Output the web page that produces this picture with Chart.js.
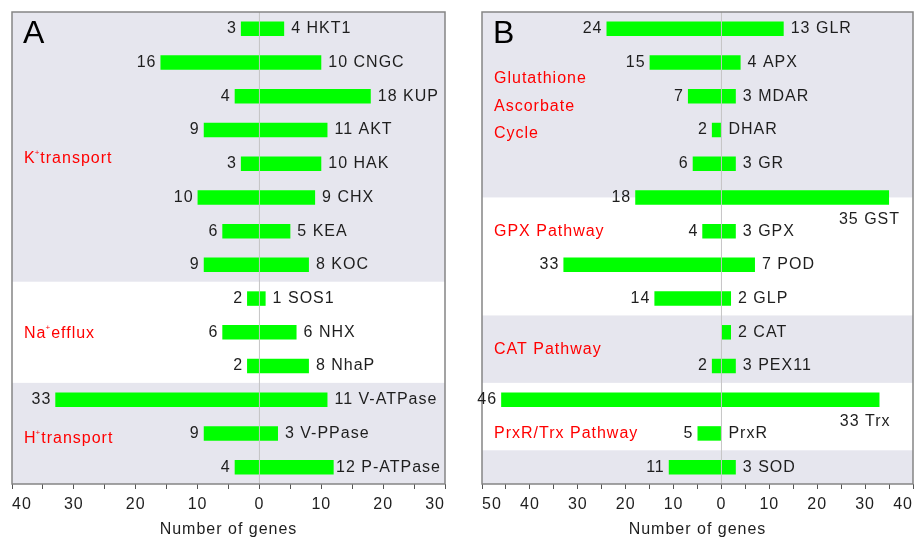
<!DOCTYPE html>
<html>
<head>
<meta charset="utf-8">
<script src="https://cdn.jsdelivr.net/npm/chart.js@4.4.1/dist/chart.umd.min.js"></script>
<style>
  html, body { margin: 0; padding: 0; background: #fff; overflow: hidden; }
  #wrap { position: relative; width: 919px; height: 539px; }
  #wrap canvas { position: absolute; top: 0; }
</style>
</head>
<body>
<div id="wrap">
  <canvas id="panelA" width="460" height="539" style="left:0"></canvas>
  <canvas id="panelB" width="459" height="539" style="left:460px"></canvas>
</div>
<script>
/* Two floating-bar panels: gene counts on the left (negative side) and right of zero */

// ── Panel A: ion transport ──
const genesA = ['HKT1', 'CNGC', 'KUP', 'AKT', 'HAK', 'CHX', 'KEA', 'KOC',
                'SOS1', 'NHX', 'NhaP', 'V-ATPase', 'V-PPase', 'P-ATPase'];
const leftA  = [3, 16, 4, 9, 3, 10, 6, 9, 2, 6, 2, 33, 9, 4];
const rightA = [4, 10, 18, 11, 10, 9, 5, 8, 1, 6, 8, 11, 3, 12];
const shadedA = [[-0.5, 7.5], [10.5, 13.5]];          // grey bands, in row units
const groupsA = [
  { lines: ['K^+transport'], at: 3.85 },
  { lines: ['Na^+efflux'],   at: 9.05 },
  { lines: ['H^+transport'], at: 12.15 }
];
const belowA = [];

// ── Panel B: antioxidant pathways ──
const genesB = ['GLR', 'APX', 'MDAR', 'DHAR', 'GR', 'GST', 'GPX', 'POD',
                'GLP', 'CAT', 'PEX11', 'Trx', 'PrxR', 'SOD'];
const leftB  = [24, 15, 7, 2, 6, 18, 4, 33, 14, 0, 2, 46, 5, 11];
const rightB = [13, 4, 3, 0, 3, 35, 3, 7, 2, 2, 3, 33, 0, 3];
const shadedB = [[-0.5, 5], [8.5, 10.5], [12.5, 13.5]];
const groupsB = [
  { lines: ['Glutathione', 'Ascorbate', 'Cycle'], at: 2.3 },
  { lines: ['GPX Pathway'],      at: 6 },
  { lines: ['CAT Pathway'],      at: 9.5 },
  { lines: ['PrxR/Trx Pathway'], at: 12 }
];
const belowB = ['GST', 'Trx'];   // these labels sit under their bar

// colours and fonts
const barGreen  = '#00ff00';
const bandGrey  = '#e6e6ee';
const frameGrey = '#858585';
const zeroGrey  = '#c4c4c4';
const textDark  = '#1e1e1e';
const groupRed  = '#ff0000';
const fontFam   = '"Liberation Sans", Arial, sans-serif';

Chart.defaults.font.family = fontFam;
Chart.defaults.color = textDark;

// 'K^+transport' -> K, small raised +, transport
function drawGroupText(ctx, text, x, y) {
  const parts = text.split('^');
  ctx.font = '16px ' + fontFam;
  ctx.fillText(parts[0], x, y);
  let cx = x + ctx.measureText(parts[0]).width;
  if (parts.length > 1) {
    const sup = parts[1][0];
    const rest = parts[1].slice(1);
    ctx.font = '8px ' + fontFam;
    ctx.fillText(sup, cx - 1, y - 6);
    cx += ctx.measureText(sup).width - 1;
    ctx.font = '16px ' + fontFam;
    ctx.fillText(rest, cx, y);
  }
}

function decorPlugin(p) {
  return {
    id: 'decor',
    beforeDraw(chart) {
      const { ctx, chartArea: a, scales: { y } } = chart;
      ctx.save();
      ctx.fillStyle = bandGrey;
      p.shaded.forEach(([from, to]) => {
        const y0 = y.getPixelForValue(from);
        const y1 = y.getPixelForValue(to);
        ctx.fillRect(a.left, y0, a.right - a.left, y1 - y0);
      });
      ctx.restore();
      ctx.letterSpacing = '1px';
    },
    afterDatasetsDraw(chart) {
      const { ctx, chartArea: a, scales: { x, y } } = chart;
      ctx.save();
      ctx.letterSpacing = '1px';

      // zero line over the bars
      const x0 = x.getPixelForValue(0);
      ctx.strokeStyle = zeroGrey;
      ctx.lineWidth = 1;
      ctx.beginPath();
      ctx.moveTo(x0, a.top);
      ctx.lineTo(x0, a.bottom);
      ctx.stroke();

      // frame
      ctx.strokeStyle = frameGrey;
      ctx.lineWidth = 1.5;
      ctx.strokeRect(a.left, a.top, a.right - a.left, a.bottom - a.top);

      // counts and gene names
      ctx.font = '16px ' + fontFam;
      ctx.fillStyle = textDark;
      ctx.textBaseline = 'middle';
      p.genes.forEach((name, i) => {
        const yc = y.getPixelForValue(i);
        const xl = x.getPixelForValue(-p.left[i]);
        const xr = x.getPixelForValue(p.right[i]);
        if (p.left[i] > 0) {
          ctx.textAlign = 'right';
          ctx.fillText(String(p.left[i]), xl - 4, yc);
        }
        const label = p.right[i] > 0 ? p.right[i] + ' ' + name : name;
        const w = ctx.measureText(label).width;
        if (p.below.includes(name)) {
          ctx.textAlign = 'right';
          ctx.fillText(label, xr + 11, yc + 22);
        } else {
          ctx.textAlign = 'left';
          ctx.fillText(label, Math.min(xr + 7, a.right - 4 - w), yc);
        }
      });

      // pathway names in red
      ctx.fillStyle = groupRed;
      ctx.textAlign = 'left';
      p.groups.forEach(g => {
        const yc = y.getPixelForValue(g.at);
        const step = 27.5;
        const top = yc - step * (g.lines.length - 1) / 2;
        g.lines.forEach((line, k) => drawGroupText(ctx, line, a.left + 12, top + k * step));
      });

      // panel letter
      ctx.fillStyle = '#000';
      ctx.letterSpacing = '0px';
      ctx.font = '32px ' + fontFam;
      ctx.textBaseline = 'alphabetic';
      ctx.fillText(p.letter, a.left + 11, a.top + 31);
      ctx.restore();
    }
  };
}

function makePanel(id, p) {
  const el = document.getElementById(id);
  return new Chart(el.getContext('2d'), {
    type: 'bar',
    data: {
      labels: p.genes,
      datasets: [{
        data: p.genes.map((g, i) => [-p.left[i], p.right[i]]),
        backgroundColor: barGreen,
        borderWidth: 0,
        barPercentage: 0.43,
        categoryPercentage: 1
      }]
    },
    options: {
      indexAxis: 'y',
      responsive: false,
      animation: false,
      layout: { padding: { left: p.padLeft, right: p.padRight, top: 12, bottom: 0 } },
      plugins: { legend: { display: false }, tooltip: { enabled: false } },
      scales: {
        y: { display: false },
        x: {
          min: p.min,
          max: p.max,
          afterFit: axis => { axis.height = 55; },
          border: { display: false },
          grid: { drawOnChartArea: false, drawTicks: true, tickLength: 5, color: '#555' },
          ticks: {
            stepSize: 5,
            autoSkip: false,
            align: 'inner',
            padding: 6,
            color: textDark,
            font: { size: 16 },
            callback: v => (v % 10 === 0 ? String(Math.abs(v)) : '')
          },
          title: {
            display: true,
            text: 'Number of genes',
            color: textDark,
            font: { size: 16 },
            padding: { top: 0, bottom: 0 }
          }
        }
      }
    },
    plugins: [decorPlugin(p)]
  });
}

makePanel('panelA', {
  letter: 'A', genes: genesA, left: leftA, right: rightA,
  shaded: shadedA, groups: groupsA, below: belowA,
  min: -40, max: 30, padLeft: 12, padRight: 15
});
makePanel('panelB', {
  letter: 'B', genes: genesB, left: leftB, right: rightB,
  shaded: shadedB, groups: groupsB, below: belowB,
  min: -50, max: 40, padLeft: 22, padRight: 6
});
</script>
</body>
</html>
